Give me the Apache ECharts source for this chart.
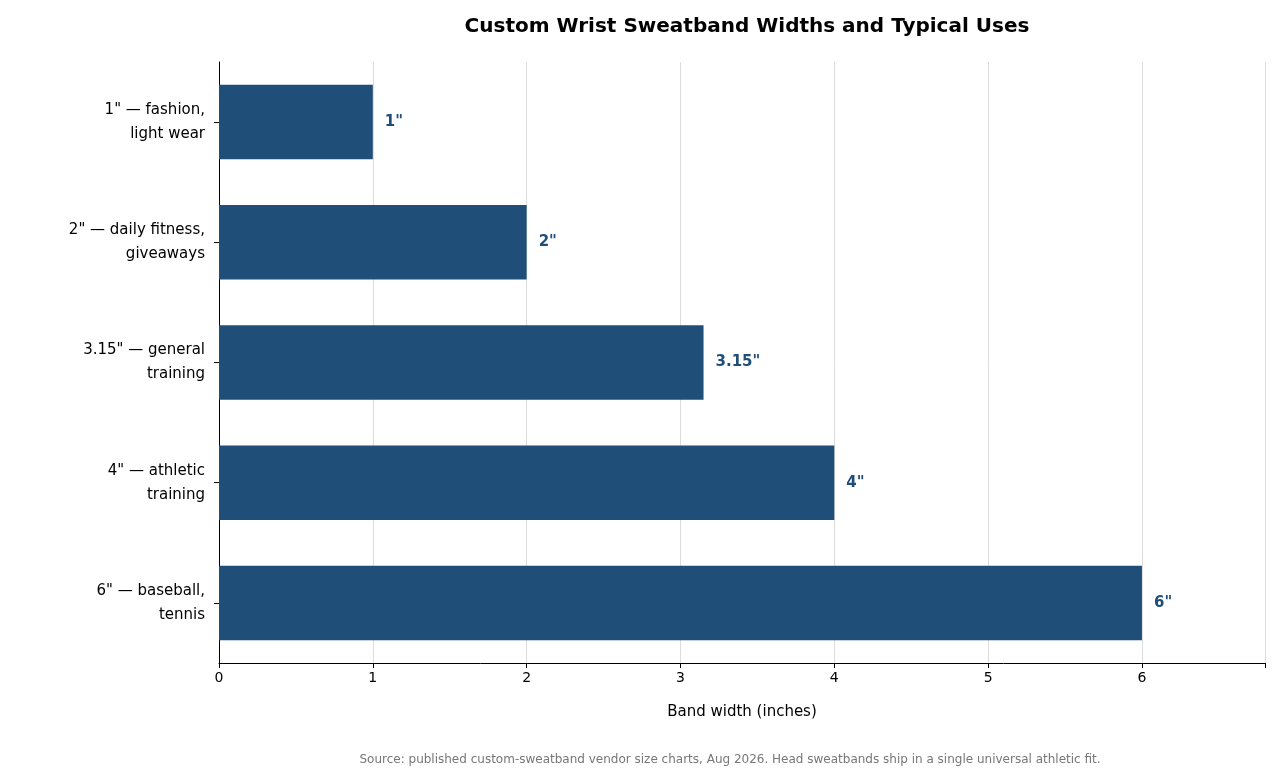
<!DOCTYPE html>
<html><head><meta charset="utf-8">
<script src="https://cdn.jsdelivr.net/npm/echarts@6/dist/echarts.min.js"></script>
<style>html,body{margin:0;padding:0;background:#fff}#c{width:1280px;height:783px}</style>
</head><body><div id="c"></div>
<script>
const categories = ['1" — fashion,\nlight wear','2" — daily fitness,\ngiveaways','3.15" — general\ntraining','4" — athletic\ntraining','6" — baseball,\ntennis'];
const widths = [1, 2, 3.15, 4, 6];
const valueLabels = ['1"','2"','3.15"','4"','6"'];
const xTicks = [0,1,2,3,4,5,6];
const F = 'DejaVu Sans';
const chart = echarts.init(document.getElementById('c'));
chart.setOption({
  animation:false,
  textStyle:{fontFamily:F},
  title:[{text:'Custom Wrist Sweatband Widths and Typical Uses',left:742,top:12,textAlign:'center',
    textStyle:{fontFamily:F,fontSize:20,fontWeight:'bold',color:'#000'}},
    {text:'Source: published custom-sweatband vendor size charts, Aug 2026. Head sweatbands ship in a single universal athletic fit.',
    left:725,top:749,textAlign:'center',textStyle:{fontFamily:F,fontSize:12,fontWeight:'normal',color:'#777'}}],
  grid:{left:219,right:15,top:62,bottom:120,containLabel:false},
  xAxis:{type:'value',min:0,max:6.8,interval:1,
    name:'Band width (inches)',nameLocation:'middle',nameGap:42,
    nameTextStyle:{fontFamily:F,fontSize:15,color:'#000'},
    axisLine:{show:true,lineStyle:{color:'#000'}},
    axisTick:{show:true,length:5,lineStyle:{color:'#000'}},
    axisLabel:{fontFamily:F,fontSize:14,color:'#000',margin:8,
      formatter:v=>xTicks.includes(v)?String(v):''},
    splitLine:{show:true,lineStyle:{color:'#dcdcdc',width:1}}},
  yAxis:{type:'category',data:categories,inverse:true,
    axisLine:{show:true,lineStyle:{color:'#000'}},
    axisTick:{show:true,alignWithLabel:true,length:5,lineStyle:{color:'#000'}},
    axisLabel:{fontFamily:F,fontSize:15,color:'#000',margin:14,align:'right',lineHeight:24}},
  series:[{type:'bar',data:widths,barWidth:'62%',itemStyle:{color:'#1f4e79'},
    label:{show:true,position:'right',distance:12,fontFamily:F,fontSize:15,fontWeight:'bold',color:'#1f4e79',
      formatter:p=>valueLabels[p.dataIndex]}}]
});
</script></body></html>
